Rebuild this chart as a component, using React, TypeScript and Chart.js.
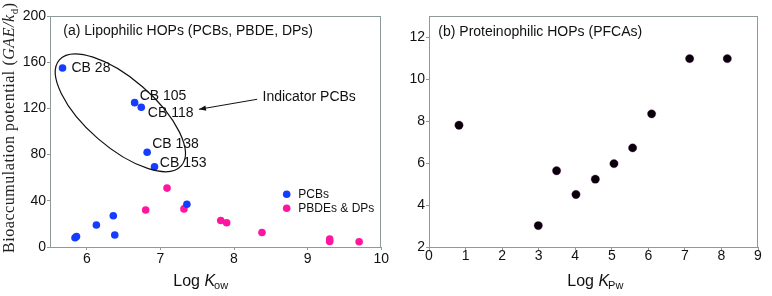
import React, { useEffect, useRef } from 'react';
import { Chart, registerables } from 'chart.js';

Chart.register(...registerables);

// ---------- data ----------
const pcbLogKow = [5.67, 6.65, 6.74, 6.82, 6.92, 7.36, 6.36, 6.13, 6.38, 5.84, 5.86];
const pcbPotential = [155, 125, 121, 82, 69.5, 37, 27, 19, 10.4, 8, 9];
const pcbNames = ['CB 28', 'CB 105', 'CB 118', 'CB 138', 'CB 153', '', '', '', '', '', ''];

const pbdeLogKow = [7.09, 6.8, 7.32, 7.82, 7.9, 8.38, 9.3, 9.3, 9.7];
const pbdePotential = [51, 32, 33, 23, 21, 12.5, 6.9, 4.8, 4.5];

const pfcaLogKpw = [0.82, 2.99, 3.49, 4.02, 4.55, 5.06, 5.57, 6.09, 7.13, 8.16];
const pfcaPotential = [7.8, 3.02, 5.63, 4.5, 5.23, 5.97, 6.72, 8.34, 10.97, 10.97];

const xTicksA = [6, 7, 8, 9, 10];
const yTicksA = [0, 40, 80, 120, 160, 200];
const xTicksB = [0, 1, 2, 3, 4, 5, 6, 7, 8, 9];
const yTicksB = [2, 4, 6, 8, 10, 12];

const seriesNamesA = ['PCBs', 'PBDEs & DPs'];
const titleA = '(a) Lipophilic HOPs (PCBs, PBDE, DPs)';
const titleB = '(b) Proteinophilic HOPs (PFCAs)';
const indicatorText = 'Indicator PCBs';
// annotation anchors in data units
const ellipseCenter = [6.456, 116.2];
const arrowTail = [8.315, 127.9];
const arrowHead = [7.524, 119.2];
const indicatorAnchor = [8.387, 129.5];

// ---------- styles ----------
const SANS = "'Liberation Sans', Arial, sans-serif";
const SERIF = "'Liberation Serif', 'Times New Roman', serif";
const AXIS_COLOR = '#8e9a9a';
const TEXT_COLOR = '#111';
const BLUE = 'rgb(22, 60, 255)';
const PINK = 'rgb(255, 22, 160)';
const BLACK = '#050005';
const labelOffsets: Record<string, [number, number]> = {
  'CB 28': [9, 0],
  'CB 105': [5, -6.6],
  'CB 118': [6.6, 5.4],
  'CB 138': [5, -8],
  'CB 153': [5.3, -4],
};
const ELLIPSE_RX = 80.7;
const ELLIPSE_RY = 34.2;
const ELLIPSE_ROT = (40.9 * Math.PI) / 180;

function drawFrame(chart: any) {
  const { ctx, chartArea: a } = chart;
  ctx.save();
  ctx.strokeStyle = AXIS_COLOR;
  ctx.lineWidth = 1;
  ctx.strokeRect(Math.round(a.left) + 0.5, Math.round(a.top) + 0.5, Math.round(a.width) - 1, Math.round(a.height));
  ctx.restore();
}

function drawXTitle(ctx: CanvasRenderingContext2D, x: number, y: number, sub: string) {
  ctx.save();
  ctx.fillStyle = TEXT_COLOR;
  ctx.textBaseline = 'alphabetic';
  ctx.textAlign = 'left';
  ctx.font = `16px ${SANS}`;
  ctx.fillText('Log ', x, y);
  let cx = x + ctx.measureText('Log ').width;
  ctx.font = `italic 16px ${SANS}`;
  ctx.fillText('K', cx, y);
  cx += ctx.measureText('K').width - 1;
  ctx.font = `11px ${SANS}`;
  ctx.fillText(sub, cx, y + 2.5);
  ctx.restore();
}

function drawYTitle(ctx: CanvasRenderingContext2D) {
  const parts = [
    { t: 'Bioaccumulation potential (', f: `16px ${SERIF}`, dy: 0 },
    { t: 'GAE/k', f: `italic 16px ${SERIF}`, dy: 0 },
    { t: 'd', f: `11px ${SERIF}`, dy: 4 },
    { t: ')', f: `16px ${SERIF}`, dy: 0 },
  ];
  const targetLen = 250;
  ctx.save();
  ctx.translate(14, 253);
  ctx.rotate(-Math.PI / 2);
  ctx.fillStyle = '#222';
  ctx.textBaseline = 'alphabetic';
  ctx.textAlign = 'left';
  let total = 0;
  let n = 0;
  parts.forEach((p) => {
    ctx.font = p.f;
    total += ctx.measureText(p.t).width;
    n += p.t.length;
  });
  const ls = Math.max(0, (targetLen - total) / (n - 1));
  let x = 0;
  parts.forEach((p) => {
    ctx.font = p.f;
    for (const ch of p.t) {
      ctx.fillText(ch, x, p.dy);
      x += ctx.measureText(ch).width + ls;
    }
  });
  ctx.restore();
}

const decoA = {
  id: 'decoA',
  afterDraw(chart: any) {
    const { ctx, chartArea: a, scales } = chart;
    const xs = scales.x;
    const ys = scales.y;
    drawFrame(chart);
    ctx.save();
    // panel title
    ctx.fillStyle = TEXT_COLOR;
    ctx.font = `14px ${SANS}`;
    ctx.textBaseline = 'middle';
    ctx.textAlign = 'left';
    ctx.fillText(titleA, a.left + 13.3, a.top + 15);
    // point labels
    pcbNames.forEach((name, i) => {
      if (!name) return;
      const off = labelOffsets[name] || [5, 0];
      const px = xs.getPixelForValue(pcbLogKow[i]);
      const py = ys.getPixelForValue(pcbPotential[i]);
      ctx.fillText(name, px + off[0], py + off[1]);
    });
    // ellipse
    ctx.strokeStyle = '#111';
    ctx.lineWidth = 1.2;
    ctx.beginPath();
    ctx.ellipse(
      xs.getPixelForValue(ellipseCenter[0]),
      ys.getPixelForValue(ellipseCenter[1]),
      ELLIPSE_RX,
      ELLIPSE_RY,
      ELLIPSE_ROT,
      0,
      Math.PI * 2
    );
    ctx.stroke();
    // arrow
    const tx = xs.getPixelForValue(arrowTail[0]);
    const ty = ys.getPixelForValue(arrowTail[1]);
    const hx = xs.getPixelForValue(arrowHead[0]);
    const hy = ys.getPixelForValue(arrowHead[1]);
    ctx.lineWidth = 1;
    ctx.beginPath();
    ctx.moveTo(tx, ty);
    ctx.lineTo(hx, hy);
    ctx.stroke();
    const ang = Math.atan2(hy - ty, hx - tx);
    const L = 7;
    const W = 2.6;
    ctx.fillStyle = '#111';
    ctx.beginPath();
    ctx.moveTo(hx, hy);
    ctx.lineTo(hx - L * Math.cos(ang) + W * Math.sin(ang), hy - L * Math.sin(ang) - W * Math.cos(ang));
    ctx.lineTo(hx - L * Math.cos(ang) - W * Math.sin(ang), hy - L * Math.sin(ang) + W * Math.cos(ang));
    ctx.closePath();
    ctx.fill();
    ctx.fillStyle = TEXT_COLOR;
    ctx.fillText(indicatorText, xs.getPixelForValue(indicatorAnchor[0]), ys.getPixelForValue(indicatorAnchor[1]));
    // legend
    const colors = [BLUE, PINK];
    ctx.font = `12px ${SANS}`;
    seriesNamesA.forEach((name, i) => {
      const lx = a.left + 236.7;
      const ly = a.top + 178.3 + i * 14;
      ctx.fillStyle = colors[i];
      ctx.beginPath();
      ctx.arc(lx, ly, 3.8, 0, Math.PI * 2);
      ctx.fill();
      ctx.fillStyle = TEXT_COLOR;
      ctx.fillText(name, lx + 11.6, ly + 0.5);
    });
    ctx.restore();
    drawXTitle(ctx, 173.3, 286, 'ow');
    drawYTitle(ctx);
  },
};

const decoB = {
  id: 'decoB',
  afterDraw(chart: any) {
    const { ctx, chartArea: a } = chart;
    drawFrame(chart);
    ctx.save();
    ctx.fillStyle = TEXT_COLOR;
    ctx.font = `14px ${SANS}`;
    ctx.textBaseline = 'middle';
    ctx.textAlign = 'left';
    ctx.fillText(titleB, a.left + 9.3, a.top + 16);
    ctx.restore();
    drawXTitle(ctx, 177.3, 286, 'Pw');
  },
};

function axis(ticksArr: number[], min: number, max: number, isX: boolean, size: number, pad: number) {
  return {
    type: 'linear' as const,
    min,
    max,
    afterBuildTicks: (s: any) => {
      s.ticks = ticksArr.map((v) => ({ value: v }));
    },
    afterFit: (s: any) => {
      if (isX) s.height = size;
      else s.width = size;
    },
    border: { display: false },
    grid: {
      display: true,
      drawOnChartArea: false,
      drawTicks: true,
      tickLength: 3,
      color: AXIS_COLOR,
      tickColor: AXIS_COLOR,
    },
    ticks: {
      color: TEXT_COLOR,
      font: { size: 14, family: SANS },
      padding: pad,
      maxRotation: 0,
      autoSkip: false,
    },
  };
}

function toPoints(xs: number[], ys: number[]) {
  return xs.map((x, i) => ({ x, y: ys[i] }));
}

export default function App() {
  const refA = useRef<HTMLCanvasElement>(null);
  const refB = useRef<HTMLCanvasElement>(null);

  useEffect(() => {
    const chartA = new Chart(refA.current as HTMLCanvasElement, {
      type: 'scatter',
      data: {
        datasets: [
          {
            label: seriesNamesA[0],
            data: toPoints(pcbLogKow, pcbPotential),
            backgroundColor: BLUE,
            borderWidth: 0,
            pointRadius: 3.8,
          },
          {
            label: seriesNamesA[1],
            data: toPoints(pbdeLogKow, pbdePotential),
            backgroundColor: PINK,
            borderWidth: 0,
            pointRadius: 3.8,
          },
        ],
      },
      options: {
        animation: false,
        responsive: false,
        events: [],
        layout: { padding: { top: 16, right: 8, left: 0, bottom: 0 } },
        plugins: { legend: { display: false }, tooltip: { enabled: false } },
        scales: {
          x: axis(xTicksA, 5.5, 10, true, 49, 1),
          y: axis(yTicksA, 0, 200, false, 50, 1),
        },
      },
      plugins: [decoA],
    });
    const chartB = new Chart(refB.current as HTMLCanvasElement, {
      type: 'scatter',
      data: {
        datasets: [
          {
            label: 'PFCAs',
            data: toPoints(pfcaLogKpw, pfcaPotential),
            backgroundColor: BLACK,
            borderColor: 'rgba(120,0,120,0.6)',
            borderWidth: 0.5,
            pointRadius: 4.2,
          },
        ],
      },
      options: {
        animation: false,
        responsive: false,
        events: [],
        layout: { padding: { top: 16, right: 14, left: 0, bottom: 0 } },
        plugins: { legend: { display: false }, tooltip: { enabled: false } },
        scales: {
          x: axis(xTicksB, 0, 9, true, 49, -2),
          y: axis(yTicksB, 2, 13, false, 39, 1),
        },
      },
      plugins: [decoB],
    });
    return () => {
      chartA.destroy();
      chartB.destroy();
    };
  }, []);

  return (
    <div style={{ position: 'absolute', left: 0, top: 0, width: 772, height: 296, background: '#fff' }}>
      <canvas ref={refA} width={390} height={296} style={{ position: 'absolute', left: 0, top: 0 }} />
      <canvas ref={refB} width={382} height={296} style={{ position: 'absolute', left: 390, top: 0 }} />
    </div>
  );
}
